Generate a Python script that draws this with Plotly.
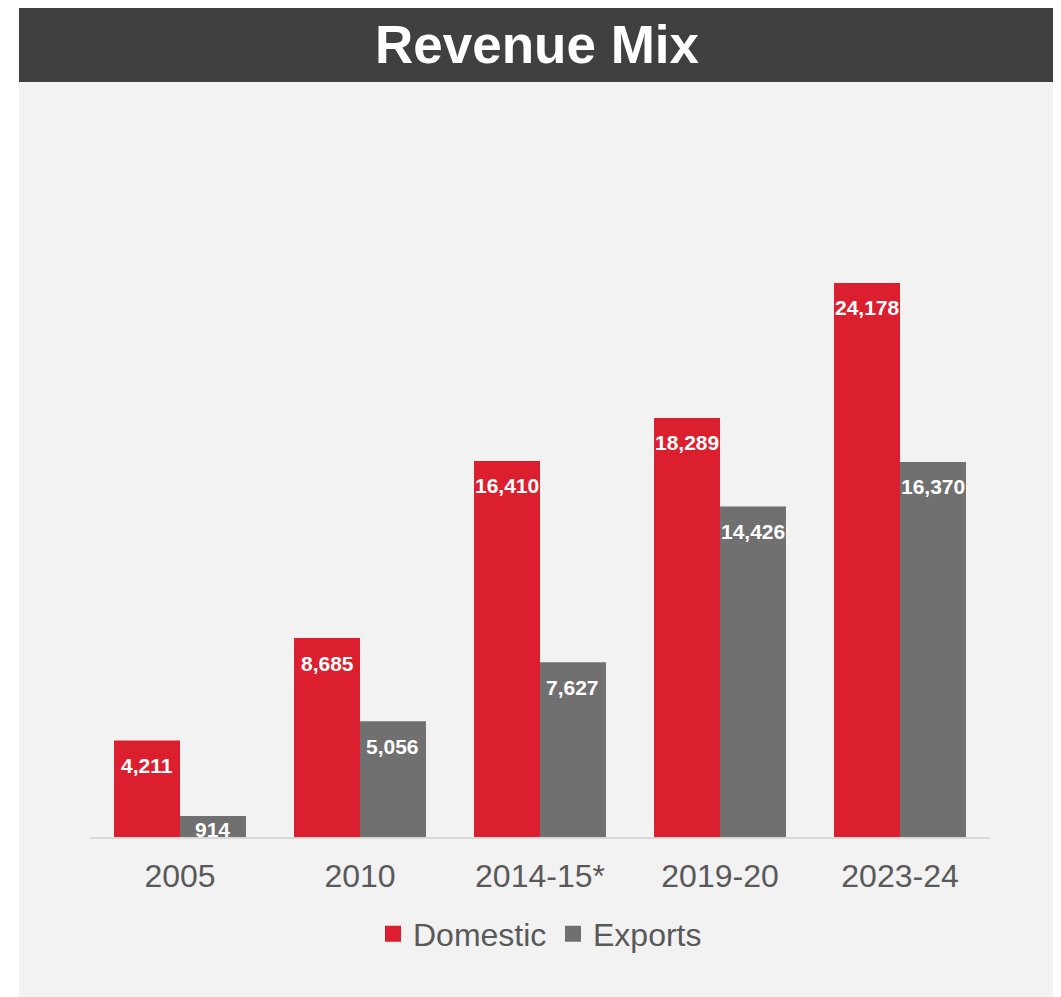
import plotly.graph_objects as go

categories = ["2005", "2010", "2014-15*", "2019-20", "2023-24"]
domestic = [4211, 8685, 16410, 18289, 24178]
exports = [914, 5056, 7627, 14426, 16370]

OFF = 8  # page body margin
W, H = 1061 - OFF, 997 - OFF
RED = "#DC1F2E"
GREY = "#707070"
FONT = "Liberation Sans, Arial"


def px(x):
    return (x - OFF) / W


def py(y):
    return 1 - (y - OFF) / H


fig = go.Figure()
fig.add_trace(go.Bar(name="Domestic", x=categories, y=domestic, marker_color=RED,
                     marker_line_width=0, showlegend=False, hoverinfo="skip"))
fig.add_trace(go.Bar(name="Exports", x=categories, y=exports, marker_color=GREY,
                     marker_line_width=0, showlegend=False, hoverinfo="skip"))
# legend entries
fig.add_trace(go.Scatter(name="Domestic", x=[None], y=[None], mode="markers",
                         marker=dict(symbol="square", size=16, color=RED)))
fig.add_trace(go.Scatter(name="Exports", x=[None], y=[None], mode="markers",
                         marker=dict(symbol="square", size=16, color=GREY)))

bar_half = 0.1833  # bar centre offset within a category group (in category units)
annotations = []
for series, off in ((domestic, -bar_half), (exports, bar_half)):
    for i, v in enumerate(series):
        annotations.append(dict(
            x=i + off, y=v, xref="x", yref="y", text=f"{v:,}", showarrow=False,
            yanchor="middle", yshift=-25 if v > 2000 else -13,
            font=dict(family=FONT, size=21, color="white", weight="bold")))

annotations.append(dict(x=px(537.5), y=py(44), xref="paper", yref="paper",
                        text="<b>Revenue Mix</b>", showarrow=False,
                        font=dict(family=FONT, size=53, color="white"),
                        xanchor="center", yanchor="middle"))

shapes = [
    dict(type="rect", xref="paper", yref="paper", x0=px(19), x1=px(1056), y0=py(997), y1=py(82),
         fillcolor="#F2F2F2", line_width=0, layer="below"),
    dict(type="rect", xref="paper", yref="paper", x0=px(19), x1=px(1056), y0=py(82), y1=py(5),
         fillcolor="#404040", line_width=0, layer="below"),
]

y_top = 100
y_base = 837
scale = (837 - 283) / 24178
ymax = (y_base - y_top) / scale

fig.update_layout(
    width=W, height=H,
    margin=dict(l=0, r=0, t=0, b=0),
    paper_bgcolor="white", plot_bgcolor="rgba(0,0,0,0)",
    barmode="group", bargap=0.267, bargroupgap=0,
    shapes=shapes, annotations=annotations,
    font=dict(family=FONT, color="#595959"),
    xaxis=dict(domain=[px(90), px(990)], range=[-0.5, 4.5], showline=True, linecolor="#D9D9D9",
               linewidth=2, ticks="", showgrid=False, zeroline=False,
               tickfont=dict(size=32, color="#595959"), ticklabelstandoff=10),
    yaxis=dict(domain=[py(y_base), py(y_top)], range=[0, ymax], visible=False, showgrid=False),
    legend=dict(orientation="h", x=px(373), xanchor="left", y=py(934), yanchor="middle",
                font=dict(size=32, color="#595959"), bgcolor="rgba(0,0,0,0)",
                itemwidth=30, tracegroupgap=0, entrywidth=135),
)

fig.write_html("out.html")
